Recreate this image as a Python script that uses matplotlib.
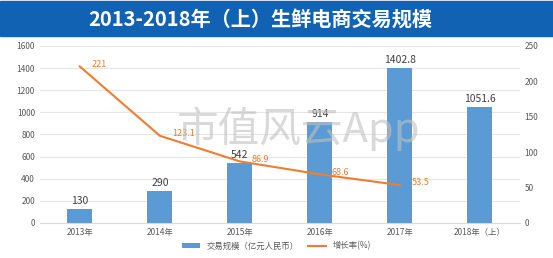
import matplotlib
matplotlib.use('Agg')
from matplotlib import pyplot as plt
import numpy as np

plt.rcParams['font.family'] = ['Noto Sans CJK SC', 'DejaVu Sans']

years = ['2013年', '2014年', '2015年', '2016年', '2017年', '2018年（上）']
volume = [130, 290, 542, 914, 1402.8, 1051.6]
volume_labels = ['130', '290', '542', '914', '1402.8', '1051.6']
growth = [221, 123.1, 86.9, 68.6, 53.5]
growth_labels = ['221', '123.1', '86.9', '68.6', '53.5']

blue = '#5b9bd5'
orange = '#ed7d31'
grey = '#595959'

fig = plt.figure(figsize=(5.53, 2.58), dpi=100)

# title band
fig.patches.append(plt.Rectangle((0, 0.86), 1, 0.135, transform=fig.transFigure,
                                 color='#1262b3', zorder=0))
fig.text(0.47, 0.925, '2013-2018年（上）生鲜电商交易规模', ha='center', va='center',
         color='white', fontsize=14.5, fontweight='bold')

ax = fig.add_axes([0.072, 0.136, 0.868, 0.686])
x = np.arange(len(years))
bars = ax.bar(x, volume, width=0.31, color=blue, zorder=2)
for xi, v, t in zip(x, volume, volume_labels):
    ax.text(xi, v + 25, t, ha='center', va='bottom', fontsize=7.5, color='#404040')

ax.set_ylim(0, 1600)
ax.set_yticks(range(0, 1601, 200))
ax.set_xlim(-0.5, len(years) - 0.5)
ax.set_xticks(x)
ax.set_xticklabels(years)
ax.tick_params(length=0, labelsize=6, colors=grey)
ax.grid(axis='y', color='#e6e6e6', linewidth=0.8, zorder=0)
for s in ax.spines.values():
    s.set_visible(False)
ax.spines['bottom'].set_visible(True)
ax.spines['bottom'].set_color('#d9d9d9')

ax2 = ax.twinx()
line, = ax2.plot(x[:len(growth)], growth, color=orange, linewidth=1.5)
for xi, g, t in zip(x, growth, growth_labels):
    ax2.text(xi + 0.15, g + 3, t, ha='left', va='center', fontsize=6.5, color=orange)
ax2.set_ylim(0, 250)
ax2.set_yticks(range(0, 251, 50))
ax2.tick_params(length=0, labelsize=6, colors=grey)
for s in ax2.spines.values():
    s.set_visible(False)

# watermark
fig.text(0.54, 0.5, '市值风云App', ha='center', va='center', fontsize=30,
         color='#c0c0c0', alpha=0.6, zorder=10)

fig.legend([bars, line], ['交易规模（亿元人民币）', '增长率(%)'], loc='lower center',
           bbox_to_anchor=(0.5, 0.0), ncol=2, frameon=False, fontsize=6,
           labelcolor=grey, handlelength=2.2, handleheight=0.5, columnspacing=1.0)

fig.savefig('out.png', dpi=100)
